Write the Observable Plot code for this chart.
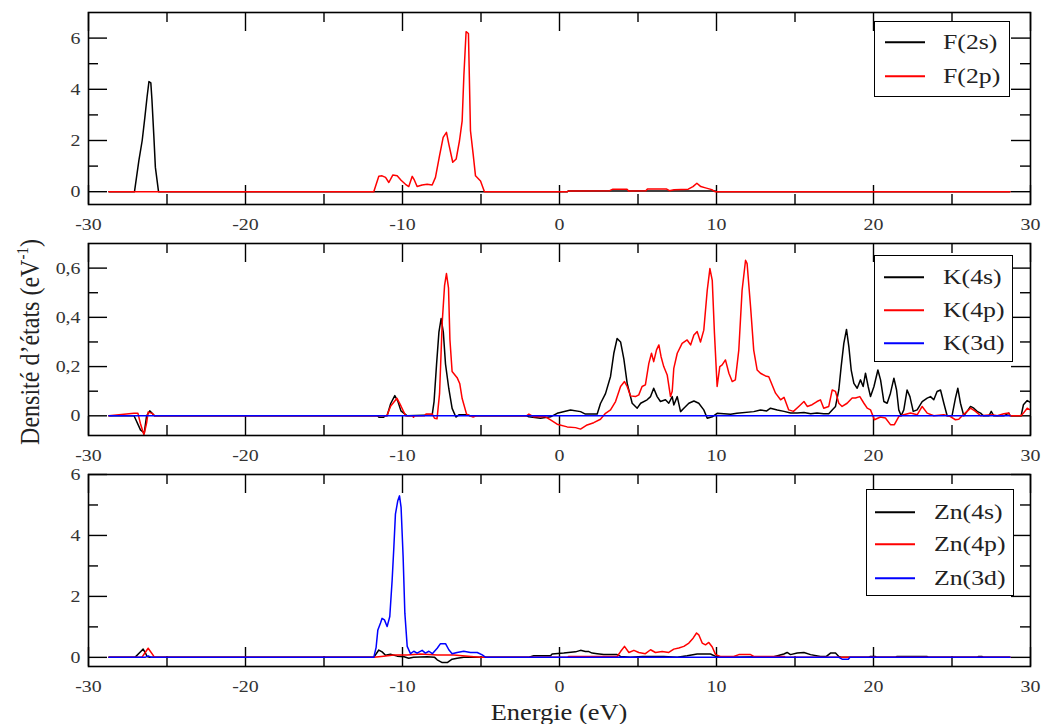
<!DOCTYPE html>
<html>
<head>
<meta charset="utf-8">
<script src="https://cdn.jsdelivr.net/npm/d3@7"></script>
<script src="https://cdn.jsdelivr.net/npm/@observablehq/plot@0.6"></script>
<style>
  body { margin: 0; background: #fff; }
  #chart { position: relative; width: 1044px; height: 724px; font-family: "Liberation Serif", "Times New Roman", serif; color: #111; }
  .panel { position: absolute; left: 0; }
  .legend { position: absolute; background: #fff; border: 1.5px solid #000; box-sizing: border-box; }
  .legend .swatch { position: absolute; height: 1.5px; transform: translateY(-50%); }
  .legend .name { position: absolute; font-size: 22px; line-height: 22px; white-space: nowrap; transform-origin: 0 50%; transform: translateY(-50%) scaleX(1.17); color: #222; }
  .xtitle { position: absolute; left: 559px; top: 712px; font-size: 24px; white-space: nowrap; transform: translate(-50%, -50%) scaleX(1.1); color: #222; }
  .ytitle { position: absolute; left: 30px; top: 342px; font-size: 24px; white-space: nowrap; transform: translate(-50%, -50%) scaleX(1.17) rotate(-90deg); color: #222; }
  .ytitle sup { font-size: 15px; vertical-align: 9px; line-height: 0; }
</style>
</head>
<body>
<div id="chart"></div>
<script>
// Energy axis ticks (eV)
const energyTicks = [-30, -20, -10, 0, 10, 20, 30];
const energyMinor = [-25, -15, -5, 5, 15, 25];

// Density-of-states ticks for each panel
const fTicks = [0, 2, 4, 6];
const fMinor = [1, 3, 5];
const kTicks = [0, 0.2, 0.4, 0.6];
const kMinor = [0.1, 0.3, 0.5];
const znTicks = [0, 2, 4, 6];
const znMinor = [1, 3, 5];

// Orbital names
const fNames = ["F(2s)", "F(2p)"];
const kNames = ["K(4s)", "K(4p)", "K(3d)"];
const znNames = ["Zn(4s)", "Zn(4p)", "Zn(3d)"];
const orbitalColors = ["#000000", "#ff0000", "#0000ff"];

// Partial densities of states, [energy (eV), DOS (eV^-1)]
const f2s = [[-28.7,0],[-27.07,0],[-26.79,1.22],[-26.58,2.0],[-26.41,2.9],[-26.27,3.7],[-26.15,4.3],[-26.03,4.25],[-25.96,3.6],[-25.84,2.2],[-25.74,0.95],[-25.54,0],[0.5,0],[0.55,0.03],[9.9,0.03],[10,0],[28.7,0]];

const f2p = [[-28.7,0],[-11.83,0],[-11.51,0.6],[-11.3,0.62],[-11.08,0.56],[-10.87,0.36],[-10.62,0.65],[-10.34,0.62],[-10.09,0.45],[-9.81,0.29],[-9.6,0.2],[-9.38,0.6],[-9.24,0.45],[-9.07,0.2],[-8.75,0.26],[-8.43,0.29],[-8.11,0.26],[-7.9,0.56],[-7.64,1.41],[-7.41,2.12],[-7.2,2.32],[-7.05,1.86],[-6.8,1.15],[-6.58,1.28],[-6.37,1.99],[-6.2,2.77],[-6.09,4.55],[-5.95,6.25],[-5.8,6.18],[-5.67,2.38],[-5.5,1.47],[-5.35,0.62],[-5.03,0.42],[-4.78,0],[0.5,0],[0.6,0.03],[3.2,0.04],[3.4,0.1],[4.3,0.1],[4.4,0.03],[5.5,0.04],[5.6,0.11],[6.8,0.11],[7.0,0.04],[7.3,0.08],[8.2,0.1],[8.5,0.2],[8.75,0.33],[9.0,0.2],[9.3,0.15],[9.7,0.08],[9.9,0],[28.7,0]];

const k4s = [[-28.7,0],[-27.1,0],[-26.69,-0.057],[-26.45,-0.07],[-26.3,0],[-26.1,0.02],[-25.9,0.007],[-25.8,0],[-11.6,0],[-11.5,-0.006],[-11.2,-0.006],[-11.1,0],[-10.98,0],[-10.75,0.05],[-10.49,0.082],[-10.3,0.06],[-10.1,0.02],[-9.7,0],[-8.11,0.003],[-7.99,0.058],[-7.83,0.21],[-7.68,0.34],[-7.54,0.395],[-7.4,0.34],[-7.26,0.21],[-7.05,0.11],[-6.84,0.03],[-6.6,-0.005],[-6.41,0.004],[-5.88,0.004],[-5.7,0],[-2.1,0],[-1.95,-0.004],[-1.21,-0.01],[-0.57,-0.004],[-0.15,0.01],[0.7,0.024],[1.34,0.017],[1.65,0.007],[2.4,0.007],[2.61,0.05],[2.93,0.09],[3.25,0.16],[3.46,0.254],[3.67,0.314],[3.89,0.3],[4.1,0.23],[4.31,0.132],[4.63,0.051],[4.95,0.031],[5.17,0.051],[5.58,0.065],[5.8,0.078],[6.0,0.112],[6.22,0.078],[6.43,0.058],[6.75,0.065],[6.96,0.051],[7.18,0.078],[7.28,0.044],[7.5,0.078],[7.71,0.017],[7.92,0.031],[8.24,0.051],[8.56,0.06],[8.87,0.051],[9.19,0.024],[9.41,-0.01],[9.73,-0.004],[10.04,0.01],[10.9,0.006],[11.3,0.01],[12.37,0.017],[12.8,0.024],[13.2,0.02],[13.44,0.031],[13.87,0.024],[14.3,0.018],[14.72,0.011],[15.14,0.011],[15.57,0.013],[16.0,0.008],[16.4,0.011],[16.83,0.008],[17.15,0.008],[17.37,0.024],[17.58,0.038],[17.79,0.105],[17.94,0.2],[18.11,0.294],[18.28,0.351],[18.43,0.281],[18.58,0.186],[18.75,0.132],[18.96,0.112],[19.17,0.146],[19.34,0.119],[19.49,0.173],[19.66,0.119],[19.81,0.078],[20.03,0.119],[20.28,0.186],[20.45,0.146],[20.66,0.058],[20.87,0.051],[21.08,0.092],[21.3,0.153],[21.47,0.105],[21.61,0.024],[21.76,0],[21.93,0.024],[22.14,0.105],[22.32,0.078],[22.53,0.018],[22.78,0.024],[23.1,0.058],[23.42,0.072],[23.63,0.078],[23.84,0.065],[24.05,0.099],[24.27,0.105],[24.48,0.051],[24.69,0],[25.0,0],[25.22,0.072],[25.37,0.112],[25.54,0.051],[25.75,0],[25.96,0.018],[26.18,0.038],[26.39,0.031],[26.6,0.018],[26.82,0.011],[27.0,0],[27.35,0],[27.5,0.018],[27.66,0],[28.3,0],[28.62,0.011],[28.7,0],[29.4,0],[29.55,0.045],[29.79,0.062],[30.1,0.05]];

const k4p = [[-28.7,0],[-27.1,0.01],[-26.85,0.01],[-26.7,-0.03],[-26.47,-0.077],[-26.3,-0.03],[-26.2,0.015],[-25.95,0.01],[-25.8,0],[-11.0,0],[-10.75,0.04],[-10.35,0.071],[-10.1,0.04],[-9.8,0],[-9.35,0],[-9.3,-0.006],[-9.25,0],[-8.6,0],[-8.5,0.007],[-8.1,0.007],[-7.96,-0.01],[-7.8,-0.012],[-7.64,0.09],[-7.47,0.38],[-7.32,0.53],[-7.2,0.578],[-7.07,0.52],[-6.98,0.31],[-6.84,0.18],[-6.52,0.155],[-6.35,0.13],[-6.2,0.07],[-5.92,0.007],[-5.7,0],[-5.5,-0.005],[-5.3,0],[-2.1,0],[-1.95,0.007],[-1.63,-0.004],[-0.89,-0.004],[-0.57,-0.017],[-0.15,-0.034],[0.49,-0.045],[1.02,-0.048],[1.34,-0.054],[1.76,-0.037],[2.18,-0.028],[2.61,-0.014],[2.93,0.01],[3.25,0.024],[3.57,0.058],[3.89,0.119],[4.14,0.139],[4.31,0.119],[4.52,0.081],[4.84,0.078],[5.05,0.085],[5.26,0.119],[5.47,0.126],[5.69,0.213],[5.86,0.254],[6.0,0.22],[6.18,0.268],[6.33,0.288],[6.47,0.24],[6.64,0.2],[6.86,0.166],[7.07,0.078],[7.18,0.1],[7.28,0.193],[7.5,0.254],[7.81,0.294],[8.13,0.308],[8.35,0.288],[8.56,0.328],[8.77,0.342],[8.98,0.3],[9.19,0.348],[9.41,0.51],[9.58,0.598],[9.73,0.55],[9.87,0.335],[10.04,0.119],[10.21,0.2],[10.36,0.207],[10.57,0.227],[10.79,0.173],[11.0,0.139],[11.2,0.146],[11.42,0.267],[11.63,0.51],[11.85,0.632],[11.95,0.618],[12.17,0.443],[12.37,0.267],[12.59,0.186],[12.8,0.173],[13.12,0.162],[13.33,0.159],[13.76,0.092],[14.08,0.065],[14.3,0.075],[14.6,0.024],[14.9,0.018],[15.24,0.038],[15.57,0.058],[15.78,0.038],[16.09,0.045],[16.4,0.058],[16.62,0.065],[16.83,0.031],[17.15,0.038],[17.37,0.105],[17.58,0.099],[17.79,0.051],[18.0,0.038],[18.32,0.051],[18.64,0.072],[18.85,0.072],[19.13,0.078],[19.39,0.051],[19.6,0.031],[19.81,0.024],[20.06,-0.016],[20.44,-0.005],[20.76,-0.009],[21.08,-0.036],[21.33,-0.036],[21.61,-0.003],[21.93,0.004],[22.36,0.011],[22.78,0.004],[23.1,0.038],[23.42,0.011],[23.84,0],[24.48,0.004],[24.9,-0.003],[25.22,-0.016],[25.43,-0.014],[25.65,0],[25.96,0.018],[26.18,0.031],[26.5,0.018],[26.82,0],[27.56,0.004],[27.88,0],[28.3,0.008],[28.62,0.011],[28.7,0],[29.4,0],[29.55,0.011],[29.79,0.031],[30.1,0.02]];

const k3d = [[-28.7,0],[28.7,0]];

const zn4s = [[-28.7,0],[-27.04,0],[-26.75,0.15],[-26.52,0.27],[-26.35,0.12],[-26.27,0.03],[-26.1,0],[-11.83,0],[-11.51,0.24],[-11.3,0.18],[-11.08,0.07],[-10.77,0.1],[-10.34,0.04],[-9.9,0.02],[-9.6,-0.03],[-9.3,0],[-8.43,0.02],[-7.95,0],[-7.79,-0.08],[-7.47,-0.17],[-7.15,-0.17],[-6.84,-0.06],[-6.52,-0.03],[-6.1,0],[-2.0,0],[-1.64,0.05],[-0.57,0.05],[-0.47,0.11],[0.27,0.14],[1.02,0.18],[1.34,0.23],[1.65,0.19],[1.87,0.19],[2.08,0.14],[2.4,0.12],[2.82,0.09],[3.67,0.09],[3.89,0.03],[4.52,0],[5.3,0.03],[6.64,0.03],[7.5,0],[8.13,0.05],[8.77,0.11],[9.62,0.11],[9.94,0.03],[11.0,0],[13.0,0.02],[13.65,0.02],[14.29,0.11],[14.5,0.16],[14.71,0.09],[15.14,0.14],[15.57,0.16],[15.99,0.09],[16.62,0.03],[17.0,0.03],[17.26,0.14],[17.58,0.14],[17.79,0.03],[18.0,0],[19.7,0],[19.8,0.03],[20.1,0.03],[20.2,0],[21.4,0],[21.5,0.03],[23.4,0.03],[23.5,0],[26.6,0],[26.7,0.03],[26.9,0.03],[27.0,0],[28.7,0]];

const zn4p = [[-28.7,0],[-26.6,0],[-26.4,0.15],[-26.2,0.3],[-25.9,0.08],[-25.8,0],[-11.83,0],[-11.2,0.04],[-10.55,0.08],[-9.7,0.08],[-8.85,0.11],[-7.79,0.08],[-6.73,0.08],[-5.46,0.02],[-5.03,0],[0.5,0],[0.59,0.03],[3.67,0.03],[3.89,0.19],[4.14,0.36],[4.42,0.16],[4.74,0.23],[5.05,0.16],[5.47,0.12],[5.8,0.25],[6.11,0.16],[6.54,0.19],[6.96,0.16],[7.28,0.27],[7.6,0.31],[7.92,0.36],[8.24,0.47],[8.51,0.63],[8.73,0.8],[8.87,0.74],[9.09,0.47],[9.3,0.41],[9.51,0.49],[9.73,0.34],[9.94,0.09],[10.25,0.03],[11.1,0.03],[11.42,0.09],[12.17,0.09],[12.37,0.03],[14.3,0.03],[14.4,0],[28.7,0]];

const zn3d = [[-28.7,0],[-26.4,0],[-26.2,0.05],[-26.0,0],[-11.83,0],[-11.68,0.33],[-11.57,0.9],[-11.4,1.13],[-11.3,1.28],[-11.15,1.23],[-10.98,1.01],[-10.81,1.34],[-10.66,2.53],[-10.55,3.62],[-10.45,4.7],[-10.3,5.14],[-10.19,5.3],[-10.09,4.92],[-9.96,3.29],[-9.85,1.45],[-9.7,0.36],[-9.49,0.12],[-9.28,0.2],[-9.07,0.14],[-8.75,0.23],[-8.54,0.14],[-8.32,0.2],[-8.1,0.12],[-7.79,0.3],[-7.58,0.45],[-7.26,0.45],[-7.05,0.25],[-6.84,0.12],[-6.52,0.16],[-6.1,0.2],[-5.67,0.16],[-5.24,0.16],[-4.92,0.08],[-4.7,0],[17.8,0],[18.0,-0.06],[18.4,-0.06],[18.5,0],[28.7,0]];

// Panel geometry
const W = 1044, H = 231, ML = 88, MR = 14, MT = 12, MB = 27;
const FW = W - ML - MR, FH = H - MT - MB;
const MAJOR = 19, MINOR = 10;
const TEXT_STRETCH = 1.17;

// plain hyphen for negatives, comma as decimal separator
const plainFormat = d => String(d);
const commaFormat = d => (d === 0 ? "0" : d3.format(".1f")(d).replace(".", ","));

function panel(series, yDomain, yMajor, yMinor, tickFormat) {
  const ink = {stroke: "#000", strokeWidth: 1.4};
  const svg = Plot.plot({
    width: W, height: H,
    marginLeft: ML, marginRight: MR, marginTop: MT, marginBottom: MB,
    x: {domain: [-30, 30]},
    y: {domain: yDomain},
    style: {fontFamily: "'Liberation Serif', 'Times New Roman', serif", background: "transparent", overflow: "visible"},
    marks: [
      Plot.tickX(energyTicks, {x: d => d, insetTop: FH - MAJOR, ...ink}),
      Plot.tickX(energyTicks, {x: d => d, insetBottom: FH - MAJOR, ...ink}),
      Plot.tickX(energyMinor, {x: d => d, insetTop: FH - MINOR, ...ink}),
      Plot.tickX(energyMinor, {x: d => d, insetBottom: FH - MINOR, ...ink}),
      Plot.tickY(yMajor, {y: d => d, insetRight: FW - MAJOR, ...ink}),
      Plot.tickY(yMajor, {y: d => d, insetLeft: FW - MAJOR, ...ink}),
      Plot.tickY(yMinor, {y: d => d, insetRight: FW - MINOR, ...ink}),
      Plot.tickY(yMinor, {y: d => d, insetLeft: FW - MINOR, ...ink}),
      ...series.map((data, i) =>
        Plot.line(data, {x: d => d[0], y: d => d[1], stroke: orbitalColors[i], strokeWidth: 1.5, clip: true})),
      Plot.frame({stroke: "#000", strokeWidth: 1.6}),
      Plot.axisX(energyTicks, {tickSize: 0, tickPadding: 13, fontSize: 17, color: "#333", label: null, tickFormat: plainFormat}),
      Plot.axisY(yMajor, {tickSize: 0, tickPadding: 8, fontSize: 17, color: "#333", label: null, tickFormat})
    ]
  });
  // widen the tick labels slightly about their anchor points
  svg.querySelectorAll('g[aria-label$="tick label"] text').forEach(t => {
    let x = parseFloat(t.getAttribute("x"));
    if (!isFinite(x)) x = 0;
    const tr = t.getAttribute("transform") || "";
    t.setAttribute("transform", `${tr} translate(${x} 0) scale(${TEXT_STRETCH} 1) translate(${-x} 0)`.trim());
  });
  return svg;
}

function legend(box, names, rowY, lineX, textX) {
  const el = document.createElement("div");
  el.className = "legend";
  Object.assign(el.style, {left: box[0] + "px", top: box[1] + "px", width: box[2] + "px", height: box[3] + "px"});
  names.forEach((name, i) => {
    const sw = document.createElement("div");
    sw.className = "swatch";
    Object.assign(sw.style, {left: lineX[0] + "px", width: (lineX[1] - lineX[0]) + "px", top: rowY[i] + "px", background: orbitalColors[i]});
    const tx = document.createElement("div");
    tx.className = "name";
    tx.textContent = name;
    Object.assign(tx.style, {left: textX + "px", top: rowY[i] + "px"});
    el.append(sw, tx);
  });
  return el;
}

const chart = document.getElementById("chart");
const panels = [
  panel([f2s, f2p], [-0.5, 7], fTicks, fMinor, plainFormat),
  panel([k4s, k4p, k3d], [-0.08, 0.7], kTicks, kMinor, commaFormat),
  panel([zn4s, zn4p, zn3d], [-0.3, 6], znTicks, znMinor, plainFormat)
];
panels.forEach((svg, i) => {
  svg.classList.add("panel");
  svg.style.top = (i * H) + "px";
  chart.append(svg);
});

chart.append(
  legend([874, 21, 136, 76], fNames, [20, 54], [10, 50], 68),
  legend([874, 255, 139, 107], kNames, [21, 54, 87], [9, 49], 68),
  legend([866, 489, 148, 107], znNames, [22, 54, 88], [8, 48], 67)
);

const xTitle = document.createElement("div");
xTitle.className = "xtitle";
xTitle.textContent = "Energie (eV)";
const yTitle = document.createElement("div");
yTitle.className = "ytitle";
yTitle.innerHTML = "Densité d’états (eV<sup>-1</sup>)";
chart.append(xTitle, yTitle);
</script>
</body>
</html>
